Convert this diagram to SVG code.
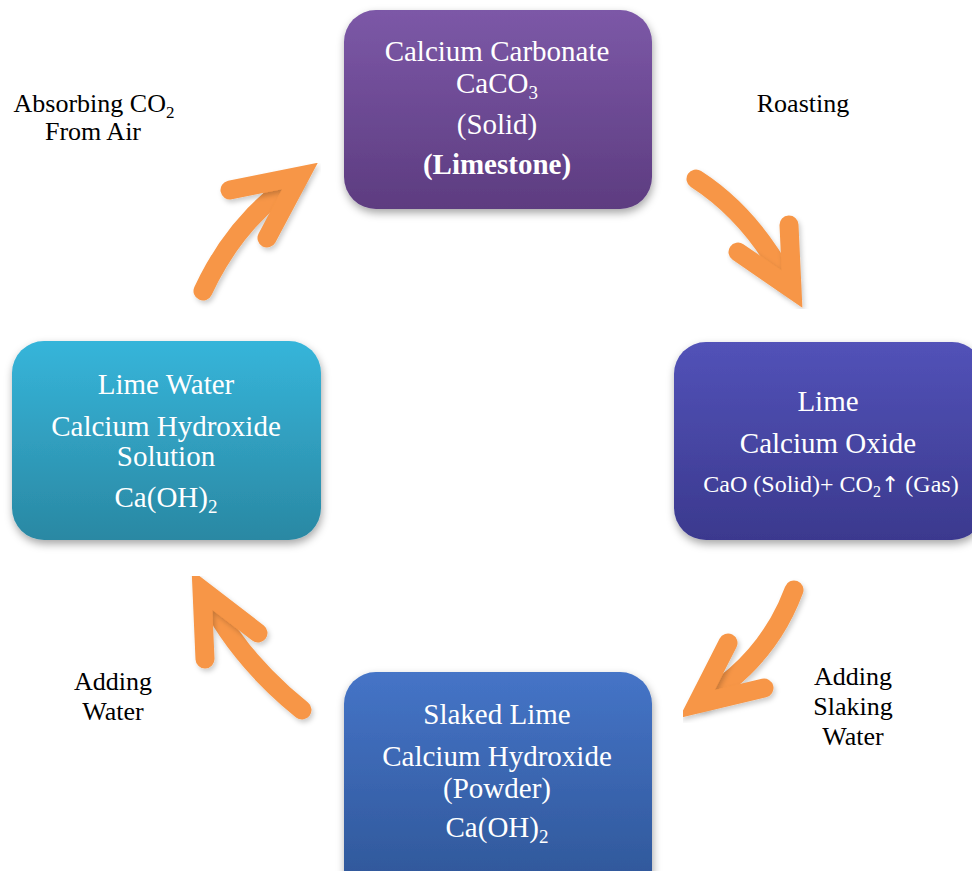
<svg xmlns="http://www.w3.org/2000/svg" width="972" height="871" viewBox="0 0 972 871">
<defs>
<linearGradient id="gPurple" x1="0" y1="0" x2="0" y2="1"><stop offset="0" stop-color="#7c58a7"/><stop offset="1" stop-color="#5d3c80"/></linearGradient>
<linearGradient id="gIndigo" x1="0" y1="0" x2="0" y2="1"><stop offset="0" stop-color="#5252b8"/><stop offset="1" stop-color="#3b398e"/></linearGradient>
<linearGradient id="gCyan" x1="0" y1="0" x2="0" y2="1"><stop offset="0" stop-color="#36b5da"/><stop offset="1" stop-color="#2a88a3"/></linearGradient>
<linearGradient id="gBlue" x1="0" y1="0" x2="0" y2="1"><stop offset="0" stop-color="#4574c7"/><stop offset="1" stop-color="#2e5596"/></linearGradient>
<filter id="shadow" x="-10%" y="-10%" width="125%" height="130%"><feDropShadow dx="1" dy="4" stdDeviation="4" flood-color="#000" flood-opacity="0.35"/></filter>
<filter id="ashadow" x="-20%" y="-20%" width="150%" height="150%"><feDropShadow dx="2" dy="3" stdDeviation="2.5" flood-color="#000" flood-opacity="0.2"/></filter>
</defs>
<style>
.box text{font-family:"Liberation Serif","Times New Roman",serif;fill:#fff;font-size:29px;text-anchor:middle}
.box text.small{font-size:24px}
.lbl{font-family:"Liberation Serif","Times New Roman",serif;fill:#000;font-size:26px;text-anchor:middle}
.arr{fill:none;stroke:#f79646;stroke-width:19;stroke-linecap:round;stroke-linejoin:miter;stroke-miterlimit:10;filter:url(#ashadow)}
</style>
<rect width="972" height="871" fill="#fff"/>
<g id="connectors">
<g id="arrow-roasting"><path class="arr" d="M696,179 Q752,215 788,284"/><path class="arr" d="M738,252 L792,289 L789,225"/></g>
<g id="arrow-slaking"><path class="arr" d="M794,590 Q768,660 702,700"/><path class="arr" d="M728,643 L697,704 L764,688"/></g>
<g id="arrow-water"><path class="arr" d="M302,710 Q240,660 208,598"/><path class="arr" d="M205,659 L202,590 L258,633"/></g>
<g id="arrow-absorb"><path class="arr" d="M203,291 Q235,222 294,181"/><path class="arr" d="M230,190 L300,176 L267,238"/></g>
</g>
<g id="calcium-carbonate" class="box">
<rect x="344" y="10" width="308" height="199" rx="32" fill="url(#gPurple)" filter="url(#shadow)"/>
<text x="497" y="61">Calcium Carbonate</text>
<text x="497" y="93">CaCO<tspan font-size="19" dy="6">3</tspan></text>
<text x="497" y="134">(Solid)</text>
<text x="497" y="174" font-weight="bold">(Limestone)</text>
</g>
<g id="lime" class="box">
<rect x="674" y="342" width="310" height="198" rx="32" fill="url(#gIndigo)" filter="url(#shadow)"/>
<text x="828" y="411">Lime</text>
<text x="828" y="453">Calcium Oxide</text>
<text class="small" x="831" y="492">CaO (Solid)+ CO<tspan font-size="16" dy="5">2</tspan><tspan dy="-5" font-family="'DejaVu Sans',sans-serif" font-size="22">↑</tspan> (Gas)</text>
</g>
<g id="lime-water" class="box">
<rect x="12" y="341" width="309" height="199" rx="32" fill="url(#gCyan)" filter="url(#shadow)"/>
<text x="166" y="394">Lime Water</text>
<text x="166" y="436">Calcium Hydroxide</text>
<text x="166" y="466">Solution</text>
<text x="166" y="507">Ca(OH)<tspan font-size="19" dy="6">2</tspan></text>
</g>
<g id="slaked-lime" class="box">
<rect x="344" y="672" width="308" height="230" rx="32" fill="url(#gBlue)" filter="url(#shadow)"/>
<text x="497" y="724">Slaked Lime</text>
<text x="497" y="766">Calcium Hydroxide</text>
<text x="497" y="798">(Powder)</text>
<text x="497" y="837">Ca(OH)<tspan font-size="19" dy="6">2</tspan></text>
</g>
<g id="labels">
<text class="lbl" x="94" y="112">Absorbing CO<tspan font-size="17" dy="6">2</tspan></text>
<text class="lbl" x="93" y="140">From Air</text>
<text class="lbl" x="803" y="112">Roasting</text>
<text class="lbl" x="853" y="685">Adding</text>
<text class="lbl" x="853" y="715">Slaking</text>
<text class="lbl" x="853" y="745">Water</text>
<text class="lbl" x="113" y="690">Adding</text>
<text class="lbl" x="113" y="720">Water</text>
</g>
</svg>
